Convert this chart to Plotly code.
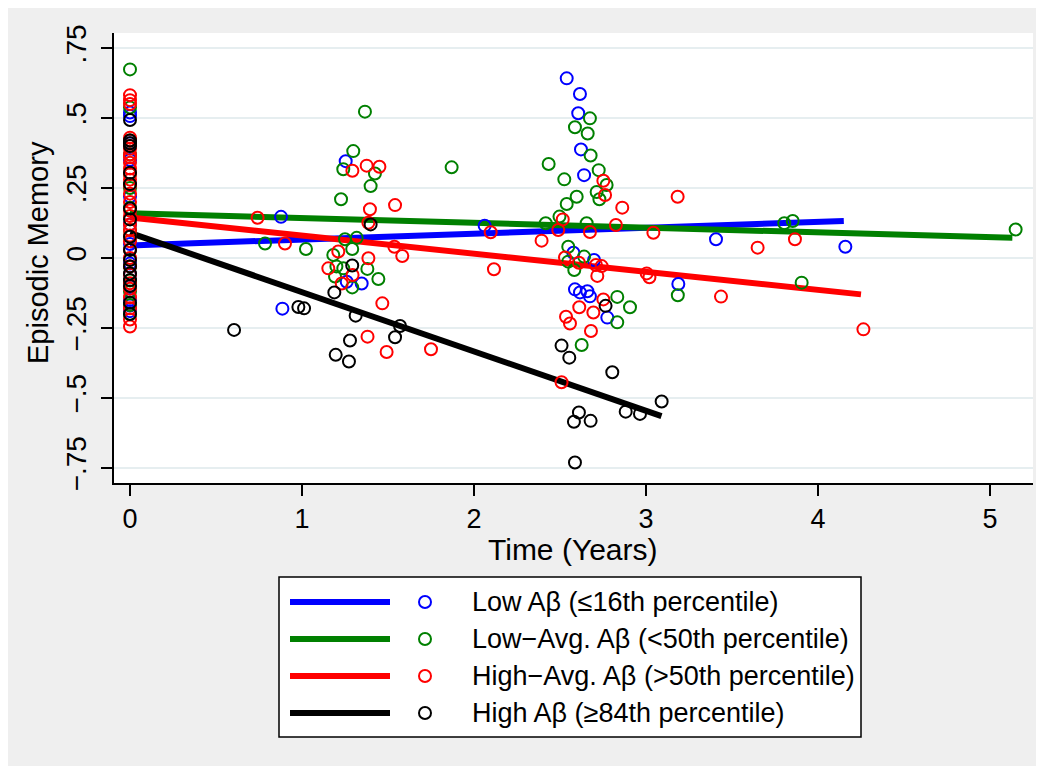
import plotly.graph_objects as go

# ---------------- data ----------------
group_names = [
    "Low Aβ (≤16th percentile)",
    "Low−Avg. Aβ (<50th percentile)",
    "High−Avg. Aβ (>50th percentile)",
    "High Aβ (≥84th percentile)",
]
group_colors = ["#0000ff", "#008000", "#ff0000", "#000000"]

low_y0 = [0.52, 0.507, 0.41, 0.35, 0.22, 0.12, 0.05, -0.02, -0.06, -0.10, -0.15, -0.17, -0.19]
low_x = [0.878, 0.886, 1.254, 1.260, 1.347, 2.062, 2.539, 2.616, 2.606, 2.622, 2.640, 2.578,
         2.698, 2.587, 2.616, 2.659, 2.674, 2.775, 3.188, 3.407, 4.159]
low_y = [0.147, -0.181, 0.346, -0.085, -0.091, 0.115, 0.642, 0.586, 0.517, 0.388, 0.296, 0.019,
         -0.007, -0.112, -0.123, -0.119, -0.137, -0.213, -0.093, 0.067, 0.040]

lowavg_y0 = [0.674, 0.538, 0.42, 0.37, 0.30, 0.25, 0.18, 0.10, 0.03, -0.03, -0.08, -0.12, -0.168, -0.20]
lowavg_x = [0.785, 1.023, 1.182, 1.192, 1.200, 1.227, 1.240, 1.240, 1.250, 1.292, 1.292, 1.298,
            1.318, 1.366, 1.380, 1.399, 1.424, 1.444, 1.870, 2.417, 2.434, 2.497, 2.525, 2.539,
            2.548, 2.548, 2.583, 2.587, 2.597, 2.626, 2.640, 2.655, 2.661, 2.674, 2.678, 2.713,
            2.725, 2.729, 2.771, 2.833, 2.833, 2.907, 3.185, 3.804, 3.853, 3.905, 5.149]
lowavg_y = [0.052, 0.032, 0.011, -0.066, -0.030, 0.210, 0.317, -0.037, 0.067, 0.032, -0.105, 0.382,
            0.072, 0.523, -0.039, 0.257, 0.302, -0.075, 0.324, 0.124, 0.336, 0.148, 0.281, 0.193,
            0.040, -0.013, -0.043, 0.467, 0.219, -0.311, 0.005, 0.124, 0.445, 0.499, 0.366, 0.236,
            0.314, 0.210, 0.261, -0.139, -0.230, -0.176, -0.133, 0.124, 0.132, -0.088, 0.102]

highavg_y0 = [0.582, 0.564, 0.55, 0.43, 0.42, 0.40, 0.39, 0.37, 0.36, 0.34, 0.32, 0.30, 0.28, 0.26,
              0.23, 0.20, 0.17, 0.15, 0.12, 0.10, 0.08, 0.06, 0.03, 0.0, -0.03, -0.06, -0.09,
              -0.11, -0.14, -0.18, -0.22, -0.245]
highavg_x = [0.742, 0.901, 1.153, 1.211, 1.231, 1.293, 1.294, 1.376, 1.381, 1.386, 1.386, 1.395,
             1.450, 1.467, 1.492, 1.537, 1.541, 1.583, 1.750, 2.097, 2.116, 2.393, 2.490, 2.509,
             2.516, 2.529, 2.535, 2.558, 2.610, 2.612, 2.674, 2.680, 2.694, 2.709, 2.717, 2.742,
             2.752, 2.752, 2.762, 2.825, 2.862, 3.004, 3.020, 3.043, 3.184, 3.436, 3.649, 3.866, 4.264]
highavg_y = [0.144, 0.052, -0.037, 0.023, -0.091, 0.312, -0.061, 0.330, -0.281, 0.126, -0.001, 0.174,
             0.326, -0.162, -0.336, 0.040, 0.189, 0.007, -0.326, 0.092, -0.040, 0.062, 0.100, -0.444,
             0.138, 0.002, -0.210, -0.234, -0.017, -0.176, 0.093, -0.261, -0.195, -0.025, -0.064, -0.029,
             0.276, -0.148, 0.225, 0.118, 0.180, -0.055, -0.069, 0.090, 0.219, -0.138, 0.037, 0.067, -0.255]

high_y0 = [0.493, 0.42, 0.41, 0.40, 0.305, 0.264, 0.177, 0.138, 0.076, 0.029, -0.007, -0.03,
           -0.055, -0.079, -0.10, -0.16, -0.20]
high_x = [0.605, 0.979, 1.012, 1.188, 1.196, 1.273, 1.279, 1.292, 1.312, 1.399, 1.541, 1.570,
          2.509, 2.554, 2.581, 2.587, 2.610, 2.678, 2.765, 2.804, 2.882, 2.965, 3.091]
high_y = [-0.257, -0.175, -0.180, -0.123, -0.346, -0.370, -0.295, -0.027, -0.206, 0.120, -0.283, -0.243,
          -0.313, -0.356, -0.585, -0.731, -0.552, -0.582, -0.171, -0.408, -0.549, -0.557, -0.513]

# fitted lines (start / end of each fit)
fit_x = [[0.0, 4.15], [0.0, 5.13], [0.0, 4.25], [0.0, 3.09]]
fit_y = [[0.045, 0.132], [0.160, 0.072], [0.145, -0.130], [0.090, -0.565]]

y_tickvals = [0.75, 0.5, 0.25, 0, -0.25, -0.5, -0.75]
y_ticktext = [".75", ".5", ".25", "0", "−.25", "−.5", "−.75"]
x_tickvals = [0, 1, 2, 3, 4, 5]

scatter_sets = [
    ([0] * len(low_y0) + low_x, low_y0 + low_y),
    ([0] * len(lowavg_y0) + lowavg_x, lowavg_y0 + lowavg_y),
    ([0] * len(highavg_y0) + highavg_x, highavg_y0 + highavg_y),
    ([0] * len(high_y0) + high_x, high_y0 + high_y),
]

# ---------------- layout geometry ----------------
# page has an 8px body margin; reference pixel coords are converted by subtracting it
OFF = 8
W, H = 1044 - OFF, 766 - OFF
ML, MR, MT, MB = 114 - OFF, 11, 33 - OFF, 283
PW, PH = W - ML - MR, H - MT - MB
FONT = "Liberation Sans, Arial, Helvetica, sans-serif"


def px(x):
    return (x - OFF - ML) / PW


def py(y):
    return (H - MB - (y - OFF)) / PH


fig = go.Figure()

for i in range(4):
    fig.add_trace(go.Scatter(x=fit_x[i], y=fit_y[i], mode="lines",
                             line=dict(color=group_colors[i], width=6),
                             showlegend=False, hoverinfo="skip"))

for i in range(4):
    xs, ys = scatter_sets[i]
    fig.add_trace(go.Scatter(x=xs, y=ys, mode="markers", name=group_names[i],
                             marker=dict(symbol="circle-open", size=12,
                                         color=group_colors[i],
                                         line=dict(width=2, color=group_colors[i])),
                             showlegend=False))

shapes = [
    # white plot region
    dict(type="rect", xref="paper", yref="paper", layer="below",
         x0=0, x1=1, y0=0, y1=1, fillcolor="#ffffff", line=dict(width=0)),
    # legend box
    dict(type="rect", xref="paper", yref="paper",
         x0=px(279), x1=px(861), y0=py(737), y1=py(577),
         fillcolor="#ffffff", line=dict(color="#000000", width=1.5), layer="below"),
]
annotations = []
row_y = [602, 639, 676, 713]
for i in range(4):
    shapes.append(dict(type="line", xref="paper", yref="paper",
                       x0=px(290), x1=px(390), y0=py(row_y[i]), y1=py(row_y[i]),
                       line=dict(color=group_colors[i], width=6)))
    shapes.append(dict(type="circle", xref="paper", yref="paper",
                       x0=px(425 - 6), x1=px(425 + 6), y0=py(row_y[i] + 6), y1=py(row_y[i] - 6),
                       line=dict(color=group_colors[i], width=2)))
    annotations.append(dict(xref="paper", yref="paper", x=px(470), y=py(row_y[i]),
                            text=group_names[i], showarrow=False, xanchor="left",
                            yanchor="middle", font=dict(size=27, color="#000000", family=FONT)))

annotations.append(dict(xref="paper", yref="paper", x=px(572), y=py(549), text="Time (Years)",
                        showarrow=False, xanchor="center", yanchor="middle",
                        font=dict(size=30, color="#000000", family=FONT)))
annotations.append(dict(xref="paper", yref="paper", x=px(38), y=py(253), text="Episodic Memory",
                        showarrow=False, xanchor="center", yanchor="middle", textangle=-90,
                        font=dict(size=29, color="#000000", family=FONT)))

fig.update_layout(
    width=W, height=H,
    margin=dict(l=ML, r=MR, t=MT, b=MB, pad=0),
    paper_bgcolor="#efefef",
    plot_bgcolor="rgba(0,0,0,0)",
    font=dict(family=FONT, size=27, color="#000000"),
    showlegend=False,
    shapes=shapes,
    annotations=annotations,
    xaxis=dict(range=[-0.093, 5.25], tickvals=x_tickvals, ticks="outside", ticklen=11,
               tickwidth=2, tickcolor="#000000", showline=True, linecolor="#000000",
               linewidth=2, showgrid=False, zeroline=False, ticklabelstandoff=0,
               tickfont=dict(size=27)),
    yaxis=dict(range=[-0.804, 0.804], tickvals=y_tickvals, ticktext=y_ticktext,
               ticks="outside", ticklen=11, tickwidth=2, tickcolor="#000000",
               showline=True, linecolor="#000000", linewidth=2, showgrid=True,
               gridcolor="#e6eef0", gridwidth=2, zeroline=False, tickangle=-90,
               ticklabelstandoff=4, tickfont=dict(size=28)),
)

fig.write_html("out.html")
